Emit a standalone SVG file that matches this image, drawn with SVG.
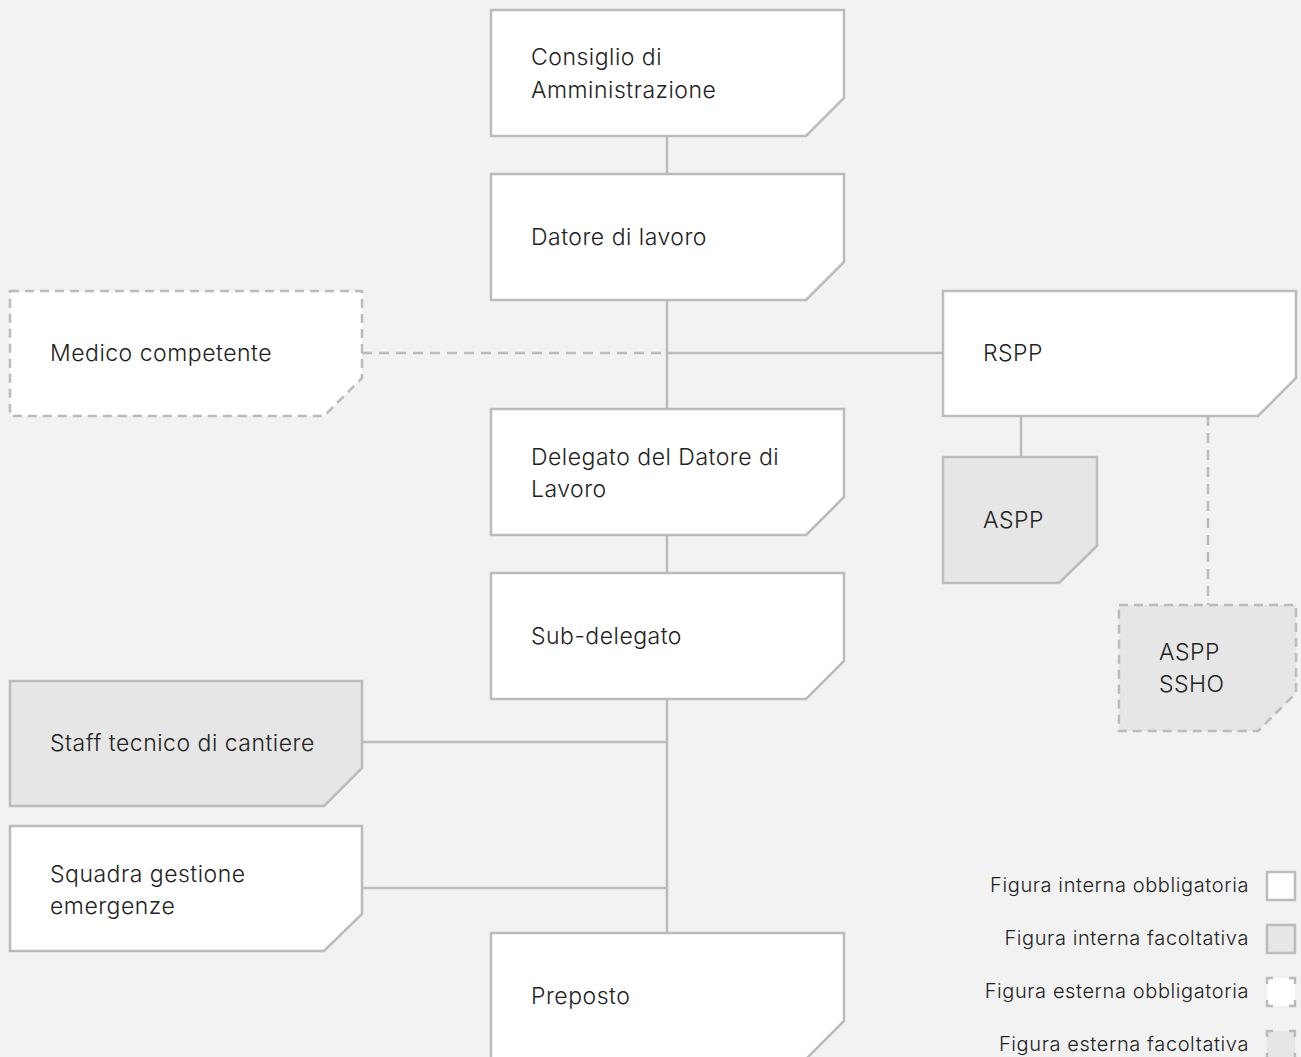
<svg xmlns="http://www.w3.org/2000/svg" width="1301" height="1057" viewBox="0 0 1301 1057">
<style>
.bg{fill:#f2f2f2}
.box{stroke:#bbbbbb;stroke-width:2.5;fill:#ffffff}
.opt{fill:#e6e6e6}
.dash{stroke-dasharray:9 6}
.t{font-family:Inter,"Liberation Sans",sans-serif;font-size:23px;letter-spacing:0.5px;fill:#222222;font-weight:300}
.lt{font-family:Inter,"Liberation Sans",sans-serif;font-size:20px;letter-spacing:0.6px;fill:#222222;font-weight:300;text-anchor:end}
.c{stroke:#bbbbbb;stroke-width:2.5;fill:none}
.cd{stroke-dasharray:10 7}
.lg{stroke:#bbbbbb;stroke-width:2.5;fill:#ffffff}
.lgd{stroke-dasharray:12 16;stroke-dashoffset:6}
</style>
<rect class="bg" x="0" y="0" width="1301" height="1057"/>
<g id="connectors">
<line class="c" x1="667" y1="136" x2="667" y2="174"/>
<line class="c" x1="667" y1="300" x2="667" y2="409"/>
<line class="c" x1="667" y1="535" x2="667" y2="573"/>
<line class="c" x1="667" y1="699" x2="667" y2="933"/>
<line class="c cd" x1="362" y1="353" x2="667" y2="353"/>
<line class="c" x1="667" y1="353" x2="943" y2="353"/>
<line class="c" x1="362" y1="742" x2="667" y2="742"/>
<line class="c" x1="362" y1="888" x2="667" y2="888"/>
<line class="c" x1="1021" y1="416" x2="1021" y2="457"/>
<line class="c cd" x1="1208" y1="416" x2="1208" y2="605"/>
</g>
<g id="consiglio">
<polygon class="box" points="491,10 844,10 844,98 806,136 491,136"/>
<text class="t" x="531" y="65">Consiglio di</text>
<text class="t" x="531" y="98">Amministrazione</text>
</g>
<g id="datore">
<polygon class="box" points="491,174 844,174 844,262 806,300 491,300"/>
<text class="t" x="531" y="245">Datore di lavoro</text>
</g>
<g id="medico">
<polygon class="box dash" points="10,291 362,291 362,378 324,416 10,416"/>
<text class="t" x="50" y="361">Medico competente</text>
</g>
<g id="rspp">
<polygon class="box" points="943,291 1296,291 1296,378 1258,416 943,416"/>
<text class="t" x="983" y="361">RSPP</text>
</g>
<g id="delegato">
<polygon class="box" points="491,409 844,409 844,497 806,535 491,535"/>
<text class="t" x="531" y="465">Delegato del Datore di</text>
<text class="t" x="531" y="497">Lavoro</text>
</g>
<g id="aspp">
<polygon class="box opt" points="943,457 1097,457 1097,546 1059,583 943,583"/>
<text class="t" x="983" y="528">ASPP</text>
</g>
<g id="aspp-ssho">
<polygon class="box opt dash" points="1119,605 1296,605 1296,693 1258,731 1119,731"/>
<text class="t" x="1159" y="660">ASPP</text>
<text class="t" x="1159" y="692">SSHO</text>
</g>
<g id="subdelegato">
<polygon class="box" points="491,573 844,573 844,661 806,699 491,699"/>
<text class="t" x="531" y="644">Sub-delegato</text>
</g>
<g id="staff">
<polygon class="box opt" points="10,681 362,681 362,768 324,806 10,806"/>
<text class="t" x="50" y="751">Staff tecnico di cantiere</text>
</g>
<g id="squadra">
<polygon class="box" points="10,826 362,826 362,914 324,951 10,951"/>
<text class="t" x="50" y="882">Squadra gestione</text>
<text class="t" x="50" y="914">emergenze</text>
</g>
<g id="preposto">
<polygon class="box" points="491,933 844,933 844,1021 806,1059 491,1059"/>
<text class="t" x="531" y="1004">Preposto</text>
</g>
<g id="legend">
<text class="lt" x="1249" y="892">Figura interna obbligatoria</text>
<rect class="lg" x="1267" y="872" width="28" height="28"/>
<text class="lt" x="1249" y="945">Figura interna facoltativa</text>
<rect class="lg" x="1267" y="925" width="28" height="28" style="fill:#e6e6e6"/>
<text class="lt" x="1249" y="998">Figura esterna obbligatoria</text>
<rect class="lg lgd" x="1267" y="978" width="28" height="28"/>
<text class="lt" x="1249" y="1051">Figura esterna facoltativa</text>
<rect class="lg lgd" x="1267" y="1031" width="28" height="28" style="fill:#e6e6e6"/>
</g>
</svg>
